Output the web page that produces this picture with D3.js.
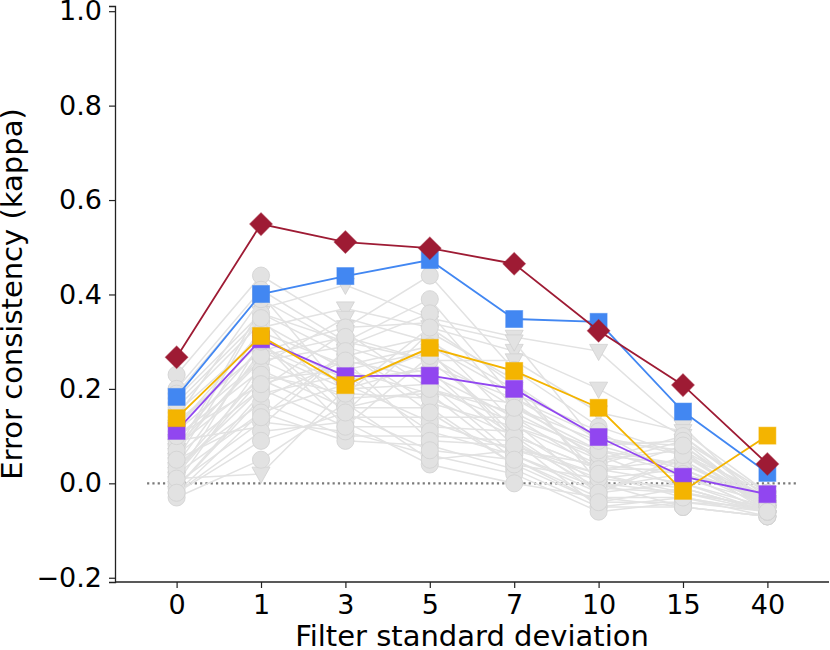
<!DOCTYPE html>
<html>
<head>
<meta charset="utf-8">
<script src="https://cdn.jsdelivr.net/npm/d3@7"></script>
<style>
  body { margin: 0; background: #fff; }
  text { font-family: "DejaVu Sans", sans-serif; }
</style>
</head>
<body>
<svg></svg>
<script>
// filter sigma levels shown on the x axis
var sigmas = ["0", "1", "3", "5", "7", "10", "15", "40"];
var yTicks = [-0.2, 0.0, 0.2, 0.4, 0.6, 0.8, 1.0];

// highlighted models
var redVals    = [0.267, 0.549, 0.511, 0.498, 0.465, 0.323, 0.208, 0.041];
var blueVals   = [0.183, 0.401, 0.439, 0.473, 0.348, 0.342, 0.152, 0.022];
var orangeVals = [0.138, 0.312, 0.208, 0.287, 0.238, 0.160, -0.016, 0.101];
var purpleVals = [0.111, 0.305, 0.227, 0.228, 0.200, 0.098, 0.014, -0.023];

// background models, group "t" = triangle, "c" = circle
var greyGroups = ["t","t","t","t","t","t","t","t","t","t","t","t","t",
                  "c","c","c","c","c","c","c","c","c","c","c",
                  "c","c","c","c","c","c","c","c","c","c","c",
                  "c","c","c","c","c"];
var greyVals = [
  [0.07, 0.37, 0.42, 0.35, 0.31, 0.28, 0.12, -0.05],
  [0.05, 0.33, 0.37, 0.33, 0.28, 0.20, 0.10, -0.04],
  [0.00, 0.25, 0.35, 0.30, 0.20, 0.02, 0.08, -0.05],
  [0.03, 0.20, 0.32, 0.20, 0.15, 0.06, 0.04, -0.03],
  [0.09, 0.12, 0.28, 0.17, 0.12, 0.04, 0.02, -0.06],
  [0.01, 0.02, 0.20, 0.25, 0.18, 0.10, 0.06, -0.04],
  [0.12, 0.30, 0.15, 0.32, 0.22, 0.00, -0.02, -0.05],
  [0.06, 0.36, 0.30, 0.26, 0.26, 0.15, 0.11, -0.02],
  [-0.01, 0.18, 0.26, 0.22, 0.10, -0.02, 0.05, -0.06],
  [0.04, 0.28, 0.33, 0.34, 0.30, 0.08, 0.09, -0.05],
  [0.02, 0.22, 0.24, 0.19, 0.17, 0.05, 0.07, -0.06],
  [0.08, 0.26, 0.29, 0.23, 0.14, 0.03, 0.03, -0.05],
  [-0.02, 0.15, 0.21, 0.28, 0.09, -0.01, -0.02, -0.06],
  [0.23, 0.44, 0.33, 0.44, 0.24, 0.12, 0.06, -0.02],
  [0.20, 0.41, 0.30, 0.39, 0.18, 0.08, 0.03, -0.04],
  [0.18, 0.36, 0.27, 0.31, 0.13, 0.05, 0.10, -0.03],
  [0.16, 0.34, 0.24, 0.28, 0.10, 0.03, 0.00, -0.05],
  [0.15, 0.31, 0.22, 0.24, 0.08, 0.01, -0.01, -0.06],
  [0.13, 0.28, 0.20, 0.21, 0.06, -0.01, 0.02, -0.06],
  [0.11, 0.26, 0.18, 0.19, 0.05, -0.03, -0.03, -0.07],
  [0.10, 0.24, 0.16, 0.16, 0.04, -0.04, -0.04, -0.05],
  [0.08, 0.22, 0.14, 0.14, 0.14, 0.07, 0.04, -0.04],
  [0.06, 0.20, 0.12, 0.12, 0.11, 0.00, -0.05, -0.07],
  [0.04, 0.17, 0.10, 0.10, 0.09, -0.05, -0.03, -0.06],
  [0.02, 0.15, 0.09, 0.08, 0.03, -0.05, -0.05, -0.07],
  [0.00, 0.13, 0.11, 0.06, 0.02, -0.06, -0.04, -0.06],
  [-0.02, 0.11, 0.13, 0.04, 0.00, -0.03, -0.05, -0.07],
  [-0.03, 0.05, 0.17, 0.05, 0.07, 0.02, -0.02, -0.05],
  [0.14, 0.39, 0.29, 0.36, 0.16, 0.09, 0.07, -0.03],
  [0.12, 0.32, 0.25, 0.29, 0.19, 0.11, 0.01, -0.04],
  [0.09, 0.29, 0.21, 0.13, 0.07, 0.04, 0.09, -0.02],
  [0.07, 0.27, 0.31, 0.26, 0.12, 0.06, -0.01, -0.06],
  [0.03, 0.23, 0.19, 0.18, 0.10, 0.03, 0.05, -0.05],
  [-0.01, 0.19, 0.23, 0.11, 0.06, -0.02, 0.00, -0.06],
  [0.05, 0.14, 0.28, 0.15, 0.04, 0.01, 0.03, -0.04],
  [0.17, 0.35, 0.16, 0.20, 0.13, -0.02, 0.06, -0.05],
  [0.10, 0.21, 0.26, 0.09, 0.08, 0.02, -0.03, -0.06],
  [0.01, 0.30, 0.12, 0.27, 0.16, 0.07, 0.02, -0.03],
  [0.19, 0.40, 0.19, 0.33, 0.21, 0.09, 0.08, -0.04],
  [-0.02, 0.09, 0.15, 0.07, 0.05, -0.04, -0.01, -0.06]
];

var width = 830;
var height = 650;
var margin = { "top": 6, "right": 1, "bottom": 68, "left": 115 };

var svg = d3.select("svg")
  .attr("width", width)
  .attr("height", height);

var scaleX = d3.scalePoint()
  .domain(sigmas)
  .range([margin.left, width - margin.right])
  .padding(0.73);

var scaleY = d3.scaleLinear()
  .domain([-0.209, 1.011])
  .range([height - margin.bottom, margin.top]);

var line = d3.line()
  .x(function(d, i) { return scaleX(sigmas[i]); })
  .y(function(d) { return scaleY(d); });

// zero reference line
var step = scaleX.step();
svg.append("line")
  .attr("x1", scaleX(sigmas[0]) - 0.35 * step)
  .attr("x2", scaleX(sigmas[sigmas.length - 1]) + 0.35 * step)
  .attr("y1", scaleY(0))
  .attr("y2", scaleY(0))
  .attr("stroke", "#7a7a7a")
  .attr("stroke-width", 2.2)
  .attr("stroke-dasharray", "2.2,3.1");

var circleSym = d3.symbol().type(d3.symbolCircle).size(230);
var triPath = function(r) {
  // downward triangle
  return "M" + (-r) + "," + (-r * 0.75) + "L" + r + "," + (-r * 0.75) + "L0," + (r * 1.05) + "Z";
};

greyVals.forEach(function(vals, k) {
  var g = svg.append("g");
  g.append("path")
    .attr("d", line(vals))
    .attr("fill", "none")
    .attr("stroke", "#e2e2e2")
    .attr("stroke-width", 1.5);
  g.selectAll("path.m")
    .data(vals)
    .enter()
    .append("path")
    .attr("class", "m")
    .attr("transform", function(d, i) { return "translate(" + scaleX(sigmas[i]) + "," + scaleY(d) + ")"; })
    .attr("d", greyGroups[k] === "t" ? triPath(9) : circleSym())
    .attr("fill", "#e2e2e2")
    .attr("stroke", "#d0d0d0")
    .attr("stroke-width", 0.8);
});

function drawSeries(vals, color, shape) {
  var g = svg.append("g");
  g.append("path")
    .attr("d", line(vals))
    .attr("fill", "none")
    .attr("stroke", color)
    .attr("stroke-width", 1.8);
  var pts = g.selectAll("rect")
    .data(vals)
    .enter()
    .append("rect");
  if (shape === "square") {
    pts.attr("x", -8.5).attr("y", -8.5).attr("width", 17).attr("height", 17);
  } else {
    pts.attr("x", -8).attr("y", -8).attr("width", 16).attr("height", 16);
  }
  pts.attr("transform", function(d, i) {
      var t = "translate(" + scaleX(sigmas[i]) + "," + scaleY(d) + ")";
      return shape === "square" ? t : t + " rotate(45)";
    })
    .attr("fill", color)
    .attr("stroke", color)
    .attr("stroke-opacity", 0.5)
    .attr("stroke-width", 1);
}

drawSeries(purpleVals, "#9146f0", "square");
drawSeries(orangeVals, "#f4b400", "square");
drawSeries(blueVals, "#4287f2", "square");
drawSeries(redVals, "#9e1b34", "diamond");

// axes
var xAxis = d3.axisBottom(scaleX).tickSizeOuter(0).tickSize(6).tickPadding(7);
var yAxis = d3.axisLeft(scaleY).tickValues(yTicks).tickSizeOuter(0).tickSize(6).tickPadding(7)
  .tickFormat(function(d) { return d3.format(".1f")(d).replace("-", "\u2212"); });

var gx = svg.append("g")
  .attr("transform", "translate(0," + (height - margin.bottom) + ")")
  .call(xAxis);
gx.select(".domain").attr("d", "M" + margin.left + ",0H" + (width - margin.right));

var gy = svg.append("g")
  .attr("transform", "translate(" + margin.left + ",0)")
  .call(yAxis);

[gx, gy].forEach(function(g) {
  g.select(".domain").attr("stroke", "#222").attr("stroke-width", 1.3);
  g.selectAll(".tick line").attr("stroke", "#222").attr("stroke-width", 1.2);
  g.selectAll(".tick text")
    .attr("fill", "#000")
    .style("font-size", "27px")
    .style("font-family", "DejaVu Sans");
});

svg.append("text")
  .attr("x", (margin.left + width - margin.right) / 2)
  .attr("y", 646)
  .attr("text-anchor", "middle")
  .style("font-size", "29px")
  .text("Filter standard deviation");

svg.append("text")
  .attr("transform", "translate(22," + ((margin.top + height - margin.bottom) / 2) + ") rotate(-90)")
  .attr("text-anchor", "middle")
  .style("font-size", "29px")
  .text("Error consistency (kappa)");
</script>
</body>
</html>
